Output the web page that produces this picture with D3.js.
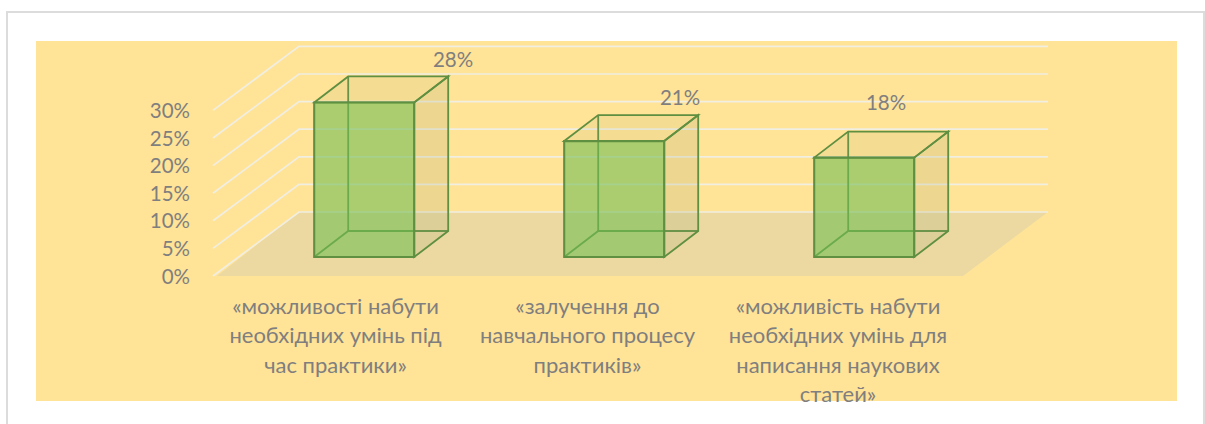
<!DOCTYPE html>
<html><head><meta charset="utf-8">
<script src="https://cdn.jsdelivr.net/npm/d3@7"></script>
<style>html,body{margin:0;background:#fff}svg{display:block}text{font-family:Lato,"Noto Sans",sans-serif;fill:#7f7f7f;font-size:20.5px}text.cat{font-size:22px}</style>
</head><body><svg id="c" width="1205" height="424"></svg>
<script>
const categories = ["«можливості набути необхідних умінь під час практики»","«залучення до навчального процесу практиків»","«можливість набути необхідних умінь для написання наукових статей»"];
const categoryLines = [["«можливості набути","необхідних умінь під","час практики»"],["«залучення до","навчального процесу","практиків»"],["«можливість набути","необхідних умінь для","написання наукових","статей»"]];
const values = [28,21,18];
const yTicks = [0,5,10,15,20,25,30];
const svg = d3.select("#c");
const dx=34, dy=-26, barFrontBottom=257;
svg.append("path").attr("d","M7,424V12H1204V424").attr("fill","#fff").attr("stroke","#dcdcdc").attr("stroke-width",2);
svg.append("rect").attr("x",36).attr("y",41).attr("width",1141).attr("height",360).attr("fill","#ffe397");
const y = d3.scaleLinear().domain([0,30]).range([276,110.4]);
const wallY = v=>y(v)-64;
const x = d3.scaleBand().domain(categories).range([217,967]).paddingInner(0).paddingOuter(0);
const bw = 100;
const barLeft = c=>x(c)+x.bandwidth()/2-bw/2+22.2;
// floor
svg.append("path").attr("d",`M217,${y(0)}L963,${y(0)}L1048,${wallY(0)}L299,${wallY(0)}Z`).attr("fill","#ecd9a1");
// grid
const g=svg.append("g").attr("fill","none").attr("stroke","#f1eee2").attr("stroke-width",1.7);
yTicks.forEach(t=>{
  g.append("path").attr("d",`M213,${y(t)}L299,${wallY(t)}L1048,${wallY(t)}`);
});
// axis labels
svg.append("g").selectAll("text").data(yTicks).join("text")
 .attr("x",190).attr("y",d=>y(d)+7.5).attr("text-anchor","end").text(d=>d+"%");
// bars
const stroke="#5f8f40";
values.forEach((v,i)=>{
  const c=categories[i], l=barLeft(c), r=l+bw, b=barFrontBottom, h=y(0)-y(v), t=b-h;
  const G=svg.append("g").attr("stroke-linejoin","miter");
  const P=(d,f,s,w)=>G.append("path").attr("d",d).attr("fill",f).attr("stroke",s||"none").attr("stroke-width",w||0);
  // back edges
  P(`M${l},${b}L${l+dx},${b+dy}L${r+dx},${b+dy}`,"none",stroke,1.8);
  P(`M${l+dx},${b+dy}L${l+dx},${t+dy}`,"none",stroke,1.8);
  // translucent side + top
  P(`M${r},${t}L${r+dx},${t+dy}L${r+dx},${b+dy}L${r},${b}Z`,"rgba(165,170,120,0.2)",stroke,1.8);
  P(`M${l},${t}L${l+dx},${t+dy}L${r+dx},${t+dy}L${r},${t}Z`,"rgba(165,170,120,0.12)",stroke,1.8);
  // front
  P(`M${l},${t}H${r}V${b}H${l}Z`,"rgba(115,190,85,0.6)",stroke,2.1);
  svg.append("text").attr("x",[453,680,886][i]).attr("y",[67,105,110][i]).attr("text-anchor","middle").text(v+"%");
});
// category labels
const xl=[335.5,587.5,838];
categoryLines.forEach((ls,i)=>{
  const t=svg.append("text").attr("class","cat").attr("text-anchor","middle");
  ls.forEach((s,j)=>t.append("tspan").attr("x",xl[i]).attr("y",314+j*29.3).text(s));
});
</script></body></html>
